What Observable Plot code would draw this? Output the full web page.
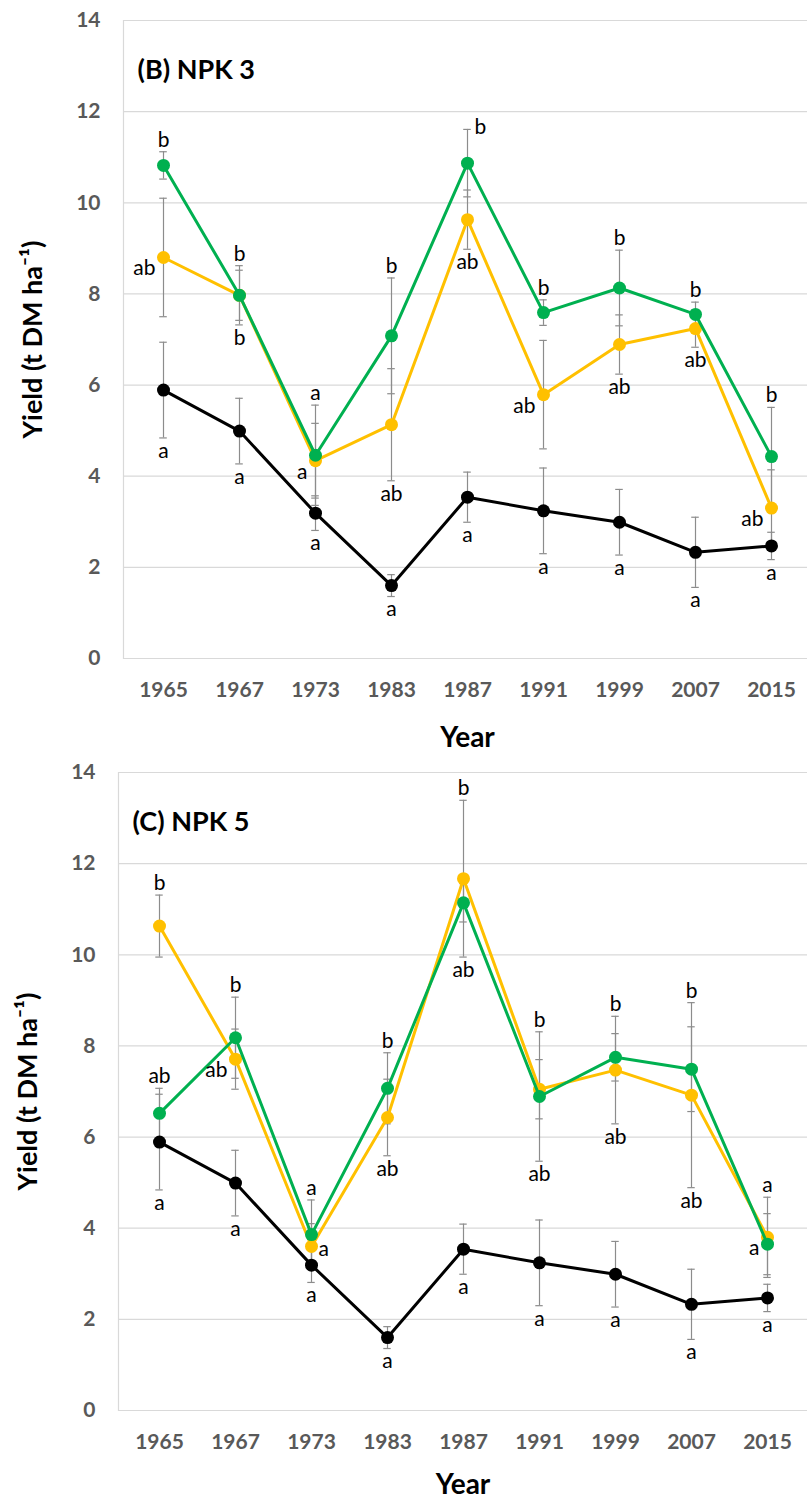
<!DOCTYPE html>
<html><head><meta charset="utf-8">
<script src="https://cdn.jsdelivr.net/npm/d3@7"></script>
<script src="https://cdn.jsdelivr.net/npm/@observablehq/plot@0.6"></script>
<style>body{margin:0;background:#fff;} svg{display:block;}</style>
</head><body><div id="chart"></div>
<script>
// ---- data ----
const years = ["1965","1967","1973","1983","1987","1991","1999","2007","2015"];
const yTicks = [0,2,4,6,8,10,12,14];

const controlYield = [5.89,4.99,3.19,1.60,3.54,3.24,2.99,2.33,2.47];
const controlErr   = [1.05,0.72,0.38,0.24,0.55,0.94,0.72,0.77,0.30];
const controlLetters = ["a","a","a","a","a","a","a","a","a"];
const controlPlaces  = ["b","b","b","b","b","b","b","b","b"];

// Panel (B) NPK 3
const npk3GreenYield = [10.82,7.97,4.46,7.08,10.87,7.59,8.13,7.55,4.43];
const npk3GreenErr   = [0.30,0.55,1.10,1.27,0.74,0.28,0.83,0.27,1.08];
const npk3GreenLetters = ["b","b","a","b","b","b","b","b","b"];
const npk3GreenPlaces  = ["T","T","T","T","tr","T","T","T","T"];
const npk3YellowYield = [8.80,7.97,4.34,5.13,9.63,5.79,6.89,7.24,3.30];
const npk3YellowErr   = [1.30,0.65,0.82,1.23,0.65,1.19,0.65,0.41,0.84];
const npk3YellowLetters = ["ab","b","a","ab","ab","ab","ab","ab","ab"];
const npk3YellowPlaces  = ["l","B","l","B","B","l","B","B","l"];

// Panel (C) NPK 5
const npk5GreenYield = [6.52,8.18,3.86,7.07,11.14,6.89,7.75,7.49,3.65];
const npk5GreenErr   = [0.55,0.89,0.76,0.78,0.42,1.42,0.52,0.93,0.67];
const npk5GreenLetters = ["ab","b","a","b","ab","b","b","b","a"];
const npk5GreenPlaces  = ["t","t","t","t","B","T","T","T","T"];
const npk5YellowYield = [10.63,7.71,3.60,6.43,11.67,7.05,7.47,6.92,3.80];
const npk5YellowErr   = [0.68,0.66,0.50,0.84,1.72,0.65,1.18,2.03,0.88];
const npk5YellowLetters = ["b","ab","a","ab","b","ab","ab","ab","a"];
const npk5YellowPlaces  = ["T","l","r","b","T","B","B","B","l"];

const GREEN = "#00b050", YELLOW = "#ffc000", BLACK = "#000000", ERR = "#8c8c8c";

function panel({title, series, marginLeft, marginRight, height, marginBottom, yearDy}) {
  const W = 807, H = height, mT = 20, mB = marginBottom;
  const bw = (W - marginLeft - marginRight) / years.length;
  const colored = series.filter(s => s.group);
  const gTop = years.map((_, i) => d3.max(colored, s => s.values[i] + s.errs[i]));
  const gBot = years.map((_, i) => d3.min(colored, s => s.values[i] - s.errs[i]));
  const rows = s => years.map((year, i) => ({year, v: s.values[i], e: s.errs[i],
    letter: s.letters[i], place: s.places[i], gTop: gTop[i], gBot: gBot[i]}));
  const inset = bw / 2 - 4;
  const marks = [
    Plot.ruleY(yTicks, {stroke: "#d9d9d9", strokeWidth: 1.2}),
    Plot.frame({anchor: "left", stroke: "#d9d9d9", strokeWidth: 1.2})
  ];
  for (const s of series) {
    const r = rows(s);
    marks.push(Plot.ruleX(r, {x: "year", y1: d => d.v - d.e, y2: d => d.v + d.e, stroke: ERR, strokeWidth: 1.2}));
    marks.push(Plot.tickY(r, {x: "year", y: d => d.v + d.e, insetLeft: inset, insetRight: inset, stroke: ERR, strokeWidth: 1.2}));
    marks.push(Plot.tickY(r, {x: "year", y: d => d.v - d.e, insetLeft: inset, insetRight: inset, stroke: ERR, strokeWidth: 1.2}));
  }
  for (const s of series) {
    const r = rows(s);
    marks.push(Plot.line(r, {x: "year", y: "v", stroke: s.color, strokeWidth: 3}));
    marks.push(Plot.dot(r, {x: "year", y: "v", fill: s.color, r: 6.5}));
  }
  const lab = {x: "year", text: "letter", fill: "black", fontSize: 21, fontWeight: "normal"};
  for (const s of series) {
    const r = rows(s);
    marks.push(Plot.text(r.filter(d => d.place === "t" || d.place === "T"),
      {...lab, y: d => d.place === "T" ? d.gTop : d.v + d.e, lineAnchor: "bottom", dy: -5}));
    marks.push(Plot.text(r.filter(d => d.place === "b" || d.place === "B"),
      {...lab, y: d => d.place === "B" ? d.gBot : d.v - d.e, lineAnchor: "top", dy: 5}));
    marks.push(Plot.text(r.filter(d => d.place === "l"),
      {...lab, y: "v", textAnchor: "end", lineAnchor: "top", dx: -8, dy: 3}));
    marks.push(Plot.text(r.filter(d => d.place === "r"),
      {...lab, y: "v", textAnchor: "start", lineAnchor: "top", dx: 7, dy: -5}));
    marks.push(Plot.text(r.filter(d => d.place === "tr"),
      {...lab, y: d => d.v + d.e, textAnchor: "start", lineAnchor: "bottom", dx: 7, dy: 5}));
  }
  marks.push(Plot.text([title], {frameAnchor: "top-left", textAnchor: "start", lineAnchor: "bottom",
    dx: 14, dy: 58, fontSize: 27, fontWeight: "bold", fill: "black"}));
  marks.push(Plot.text(["Year"], {frameAnchor: "bottom", textAnchor: "middle", lineAnchor: "bottom", dy: yearDy,
    fontSize: 28, fontWeight: "bold", fill: "black"}));
  marks.push(Plot.text(["Yield (t DM ha⁻¹)"], {frameAnchor: "left", textAnchor: "middle", lineAnchor: "middle",
    rotate: -90, dx: -90, fontSize: 27, fontWeight: "bold", fill: "black"}));
  marks.push(Plot.axisX({tickSize: 0, tickPadding: 24, fontSize: 21, fontWeight: "bold", color: "#595959", label: null}));
  marks.push(Plot.axisY({ticks: yTicks, tickSize: 0, tickPadding: 23, fontSize: 21, fontWeight: "bold", color: "#595959", label: null}));
  return Plot.plot({
    width: W, height: H, marginTop: mT, marginBottom: mB, marginLeft, marginRight,
    style: {fontFamily: "Lato, sans-serif", background: "white"},
    x: {type: "band", domain: years, padding: 0, axis: null},
    y: {domain: [0, 14], axis: null},
    marks
  });
}

const control = {values: controlYield, errs: controlErr, letters: controlLetters, places: controlPlaces, color: BLACK, group: false};

const chart = document.getElementById("chart");
chart.appendChild(panel({
  title: "(B) NPK 3", marginLeft: 123, marginRight: -4, height: 752, marginBottom: 94, yearDy: 88,
  series: [control,
    {values: npk3YellowYield, errs: npk3YellowErr, letters: npk3YellowLetters, places: npk3YellowPlaces, color: YELLOW, group: true},
    {values: npk3GreenYield, errs: npk3GreenErr, letters: npk3GreenLetters, places: npk3GreenPlaces, color: GREEN, group: true}]
}));
chart.appendChild(panel({
  title: "(C) NPK 5", marginLeft: 118, marginRight: 0, height: 749, marginBottom: 91, yearDy: 83,
  series: [control,
    {values: npk5YellowYield, errs: npk5YellowErr, letters: npk5YellowLetters, places: npk5YellowPlaces, color: YELLOW, group: true},
    {values: npk5GreenYield, errs: npk5GreenErr, letters: npk5GreenLetters, places: npk5GreenPlaces, color: GREEN, group: true}]
}));
</script>
</body></html>
